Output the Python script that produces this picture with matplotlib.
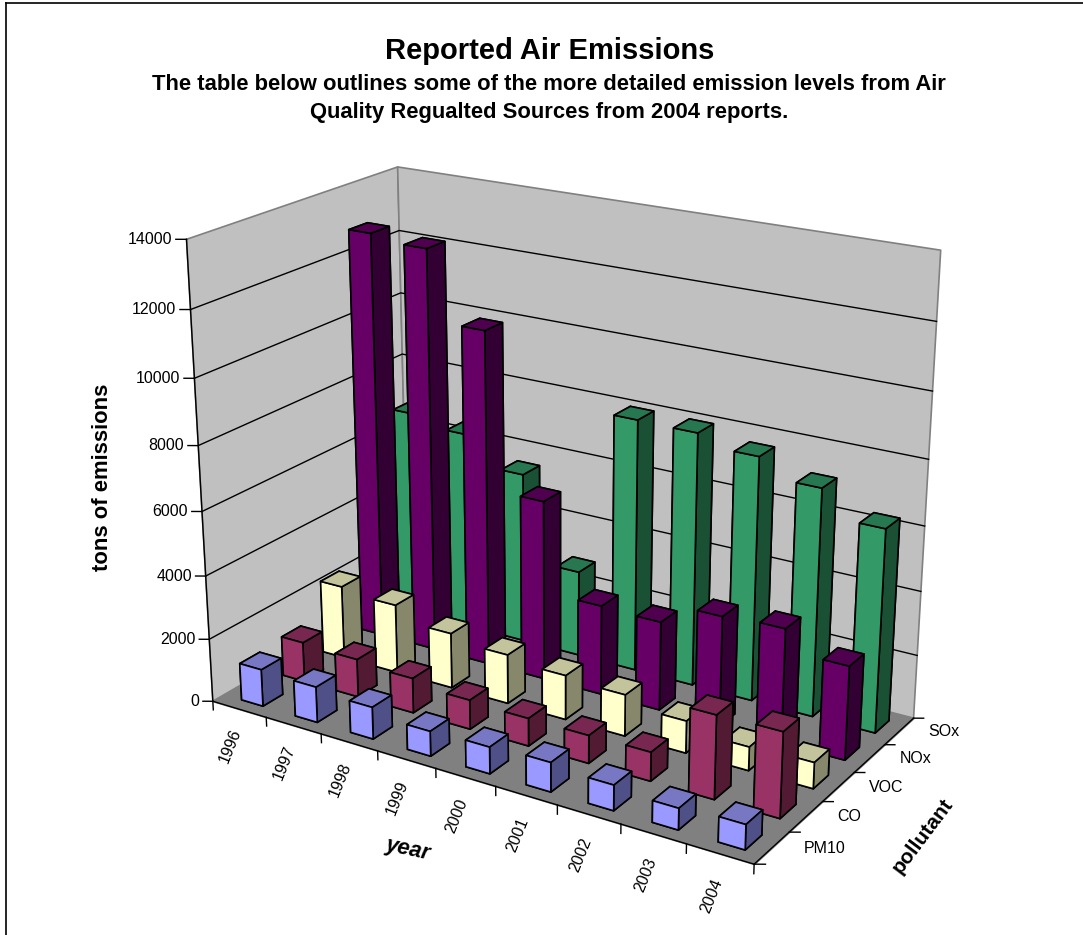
import matplotlib
matplotlib.use("Agg")
import matplotlib.pyplot as plt
from mpl_toolkits.mplot3d import proj3d
from mpl_toolkits.mplot3d.art3d import Poly3DCollection

plt.rcParams["font.family"] = ["Liberation Sans", "DejaVu Sans"]

years = ["1996", "1997", "1998", "1999", "2000", "2001", "2002", "2003", "2004"]
pollutants = ["PM10", "CO", "VOC", "NOx", "SOx"]
z_ticks = [0, 2000, 4000, 6000, 8000, 10000, 12000, 14000]

pm10 = [1175, 1125, 1000, 775, 825, 900, 775, 650, 750]
co = [1265, 1210, 1100, 920, 865, 865, 890, 2550, 2585]
voc = [2350, 2210, 1760, 1560, 1400, 1300, 1000, 730, 800]
nox = [12900, 12730, 10580, 5700, 2840, 2800, 3450, 3550, 2900]
sox = [6700, 6400, 5500, 2750, 8000, 7980, 7650, 7100, 6300]

# front, side and top shades for each pollutant
front_colors = ["#9999FF", "#993366", "#FFFFCC", "#660066", "#339966"]
side_colors = ["#4F5088", "#531A33", "#87876B", "#330033", "#1A5034"]
top_colors = ["#7777C4", "#772750", "#C4C49C", "#4F004F", "#277850"]

series = [pm10, co, voc, nox, sox]
bar_w = 0.40
bar_d = 0.47

fig = plt.figure(figsize=(10.83, 9.35), dpi=100)
fig.patch.set_facecolor("white")
ax = fig.add_axes([0.006, -0.033, 1.0, 1.0], projection="3d", computed_zorder=False)
ax.set_proj_type("persp", focal_length=0.48)
ax.set_box_aspect((616, 340, 481), zoom=0.915)
ax.view_init(elev=21, azim=-58)
ax.set_xlim(0, len(years))
ax.set_ylim(0, len(pollutants))
ax.set_zlim(0, 14000)
ax.set_axis_off()

nx = len(years)
ny = len(pollutants)
zmax = z_ticks[-1]


def label(x, y, z, s, **kwargs):
    # Text3D ignores rotation, so place a 2D text at the projected point
    px, py, _ = proj3d.proj_transform(x, y, z, ax.get_proj())
    ax.text2D(px, py, s, transform=ax.transData, fontsize=11.5, zorder=3, **kwargs)


# back walls and floor
walls = Poly3DCollection(
    [[(0, ny, 0), (nx, ny, 0), (nx, ny, zmax), (0, ny, zmax)],
     [(0, 0, 0), (0, ny, 0), (0, ny, zmax), (0, 0, zmax)]],
    facecolor="#C0C0C0", edgecolor="#808080", linewidth=1.2, zorder=1)
ax.add_collection3d(walls)
floor = Poly3DCollection([[(0, 0, 0), (nx, 0, 0), (nx, ny, 0), (0, ny, 0)]],
                         facecolor="#808080", edgecolor="#808080", linewidth=1, zorder=1)
ax.add_collection3d(floor)

# gridlines on the walls, value ticks point left on the page
for z in z_ticks:
    if 0 < z < zmax:
        ax.plot([0, 0, nx], [0, ny, ny], [z, z, z], color="black", lw=1.0, zorder=2)
    ax.plot([0, -0.125], [0, -0.077], [z, z], color="black", lw=1.0, zorder=2)
    label(-0.17, -0.105, z, str(z), ha="right", va="center")

# floor edges, year ticks drop straight down, pollutant ticks run right
ax.plot([0, 0], [0, 0], [0, zmax], color="black", lw=1.0, zorder=2)
ax.plot([0, nx, nx], [0, 0, ny], [0, 0, 0], color="black", lw=1.0, zorder=2)
for i in range(nx + 1):
    ax.plot([i, i], [0, 0], [0, -280], color="black", lw=1.0, zorder=2)
for j in range(ny + 1):
    ax.plot([nx, nx + 0.125], [j, j + 0.077], [0, 0], color="black", lw=1.0, zorder=2)

for i, year in enumerate(years):
    label(i * 1.015 + 0.28, 0, -1300, year, rotation=68, ha="center", va="center")
for j, name in enumerate(pollutants):
    label(nx + 0.36, j + 0.72, 0, name, ha="left", va="center")

# bars, painted from the back row forward
order = 10
for j in range(ny - 1, -1, -1):
    for i in range(nx):
        colors = [front_colors[j], top_colors[j], front_colors[j],
                  front_colors[j], side_colors[j], side_colors[j]]
        bar = ax.bar3d(i + (1 - bar_w) / 2 + 0.03, j + (1 - bar_d) / 2, 0,
                       bar_w, bar_d, series[j][i],
                       color=colors, edgecolor="black", linewidth=1.2, shade=False)
        bar.set_zorder(order)
        order += 1

fig.text(0.508, 0.945, "Reported Air Emissions", ha="center", va="center",
         fontsize=21, fontweight="bold")
fig.text(0.507, 0.9095, "The table below outlines some of the more detailed emission levels from Air",
         ha="center", va="center", fontsize=15.8, fontweight="bold")
fig.text(0.507, 0.8795, "Quality Regualted Sources from 2004 reports.",
         ha="center", va="center", fontsize=15.8, fontweight="bold")
fig.text(0.095, 0.489, "tons of emissions", rotation=90, ha="center", va="center",
         fontsize=15.8, fontweight="bold")
fig.text(0.377, 0.092, "year", rotation=-12, ha="center", va="center",
         fontsize=15.8, fontweight="bold", fontstyle="italic")
fig.text(0.852, 0.106, "pollutant", rotation=53, ha="center", va="center",
         fontsize=15, fontweight="bold")

# chart frame along the left and top edges
fig.add_artist(plt.Line2D([0.006, 0.006], [0, 0.9965], color="black", lw=1.2))
fig.add_artist(plt.Line2D([0.006, 1.0], [0.9965, 0.9965], color="black", lw=1.2))

fig.savefig("out.png", dpi=100)
